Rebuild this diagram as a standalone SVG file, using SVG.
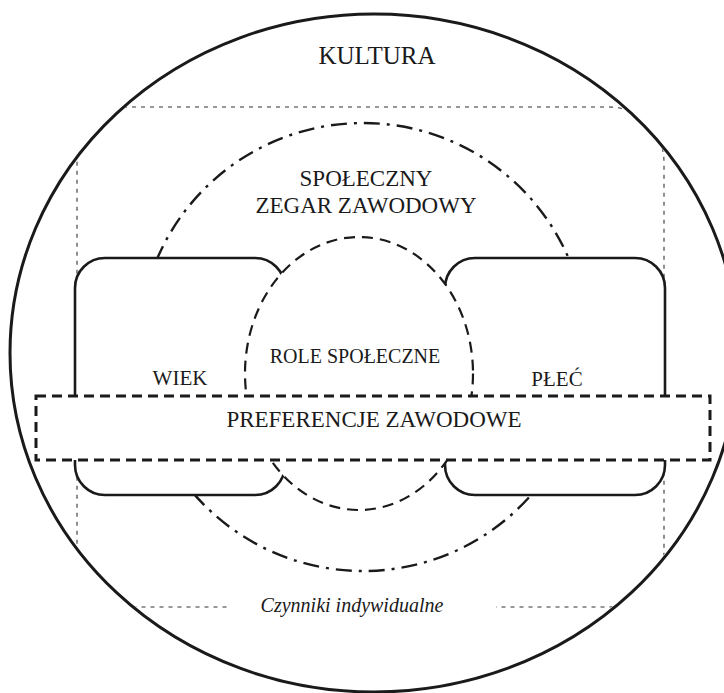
<svg xmlns="http://www.w3.org/2000/svg" width="724" height="693" viewBox="0 0 724 693">
<style>
  .t { font-family: "Liberation Serif", "Times New Roman", serif; fill: #1a1a1a; text-anchor: middle; }
  .solid { fill: #fff; stroke: #1a1a1a; stroke-width: 2.6; }
  .dotted { fill: none; stroke: #333; stroke-width: 1.1; stroke-dasharray: 4 5; }
  .dashdot { fill: none; stroke: #1a1a1a; stroke-width: 2.4; stroke-dasharray: 16 7 3 7; }
  .dashed { fill: #fff; stroke: #1a1a1a; stroke-width: 2.2; stroke-dasharray: 11 7; }
  .bar { fill: #fff; stroke: #1a1a1a; stroke-width: 3; stroke-dasharray: 10 6; }
</style>
<defs>
  <clipPath id="inside">
    <ellipse cx="374" cy="353" rx="362" ry="337"/>
  </clipPath>
</defs>
<rect width="724" height="693" fill="#fff"/>
<g id="kultura">
  <ellipse cx="374" cy="353" rx="364" ry="339" fill="none" stroke="#1a1a1a" stroke-width="3"/>
  <text class="t" x="377" y="64" font-size="25">KULTURA</text>
</g>
<g id="czynniki">
  <rect class="dotted" x="77" y="107" width="587" height="500" rx="55" clip-path="url(#inside)"/>
  <rect x="231" y="595" width="265" height="24" fill="#fff"/>
  <text class="t" x="352" y="612" font-size="20" font-style="italic">Czynniki indywidualne</text>
</g>
<g id="zegar">
  <circle class="dashdot" cx="363" cy="347" r="224"/>
  <text class="t" x="366" y="186" font-size="23">SPOŁECZNY</text>
  <text class="t" x="366" y="213" font-size="23">ZEGAR ZAWODOWY</text>
</g>
<g id="wiek">
  <rect class="solid" x="75" y="258" width="210" height="237" rx="30"/>
  <text class="t" x="180" y="385" font-size="21">WIEK</text>
</g>
<g id="plec">
  <rect class="solid" x="445" y="258" width="220" height="237" rx="30"/>
  <text class="t" x="557" y="386" font-size="21">PŁEĆ</text>
</g>
<g id="role">
  <ellipse class="dashed" cx="359" cy="373.5" rx="114" ry="136.5"/>
  <text class="t" x="355" y="363" font-size="20">ROLE SPOŁECZNE</text>
</g>
<g id="preferencje">
  <rect class="bar" x="36" y="396" width="674" height="64"/>
  <text class="t" x="374" y="427" font-size="23">PREFERENCJE ZAWODOWE</text>
</g>
</svg>
